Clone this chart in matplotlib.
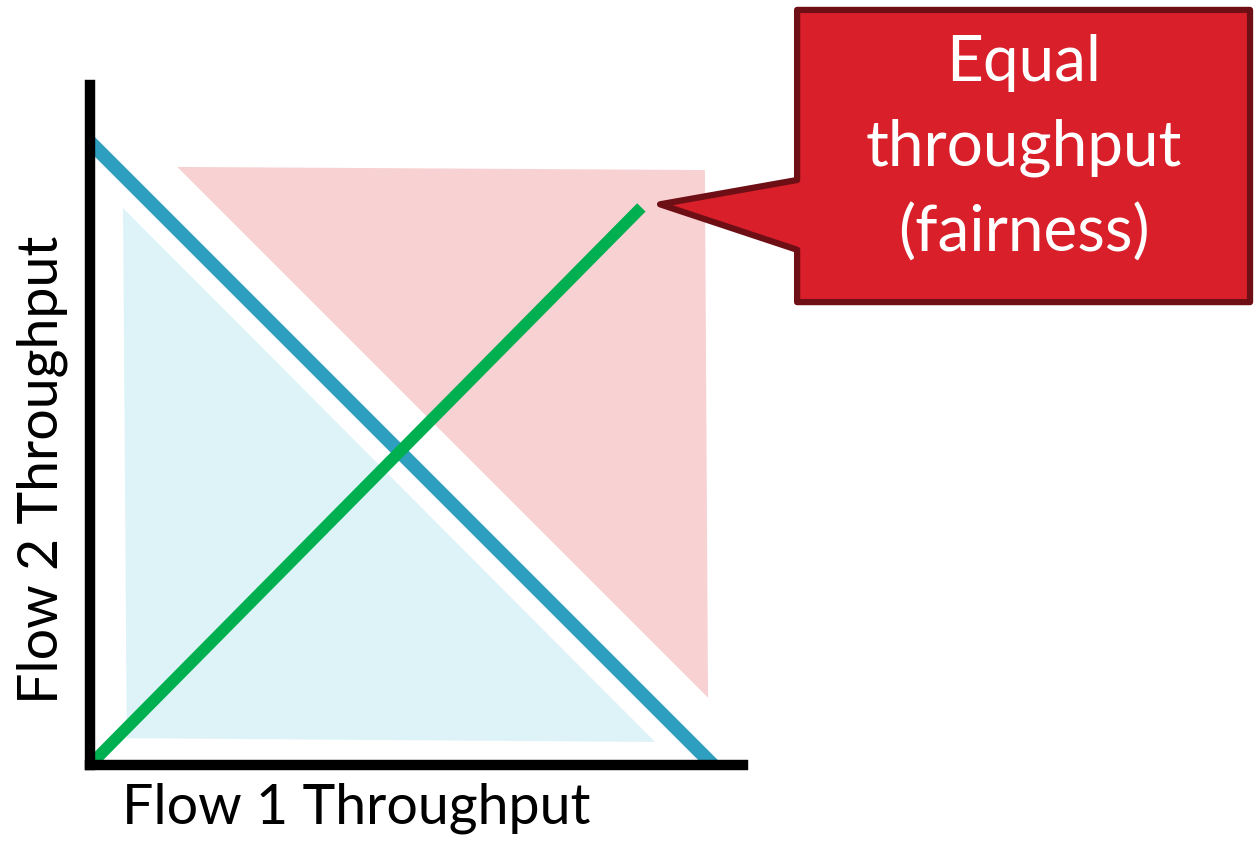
import matplotlib.pyplot as plt
from matplotlib.patches import Polygon

plt.rcParams['font.family'] = ['Lato', 'DejaVu Sans']

# throughput space, 1.0 = link capacity
capacity_x = [0.0, 1.0]
capacity_y = [1.0, 0.0]
fair_x = [0.0, 0.885]
fair_y = [0.0, 0.895]
# under-utilised region (below capacity line)
under_x = [0.053, 0.059, 0.907]
under_y = [0.894, 0.043, 0.037]
# overloaded region (above capacity line)
over_x = [0.140, 0.987, 0.992]
over_y = [0.960, 0.955, 0.108]
# callout shape: box plus pointer to the end of the fairness line
callout_x = [1.135, 1.862, 1.862, 1.135, 1.135, 0.915, 1.135]
callout_y = [1.212, 1.212, 0.743, 0.743, 0.827, 0.900, 0.939]
callout_text = 'Equal\nthroughput\n(fairness)'
xlabel = 'Flow 1 Throughput'
ylabel = 'Flow 2 Throughput'

W, H = 1259, 841
fig = plt.figure(figsize=(W / 100, H / 100), dpi=100)
ax = fig.add_axes([90 / W, 76 / H, 653 / W, 680 / H])
ax.set_xlim(0, 653 / 623)
ax.set_ylim(0, 680 / 623)

ax.fill(under_x, under_y, color='#ddf3f8', lw=0)
ax.fill(over_x, over_y, color='#f8d1d3', lw=0)
ax.plot(capacity_x, capacity_y, color='#2f9fc0', lw=10, solid_capstyle='butt')
ax.plot(fair_x, fair_y, color='#00b050', lw=8.5, solid_capstyle='butt')

ax.add_patch(Polygon(list(zip(callout_x, callout_y)), closed=True,
                     facecolor='#d91f29', edgecolor='#6e0e15', lw=4.5,
                     joinstyle='round', clip_on=False))
ax.text(1.4985, 0.99, callout_text, ha='center', va='center', color='white',
        fontsize=46, linespacing=1.56)

for s in ['top', 'right']:
    ax.spines[s].set_visible(False)
for s in ['left', 'bottom']:
    ax.spines[s].set_linewidth(7.5)
    ax.spines[s].set_color('black')
ax.set_xticks([])
ax.set_yticks([])

fig.text(356 / W, 1 - 808 / H, xlabel, ha='center', va='center', fontsize=40)
fig.text(42 / W, 1 - 470 / H, ylabel, ha='center', va='center', fontsize=40,
         rotation=90)

fig.savefig('out.png', dpi=100)
